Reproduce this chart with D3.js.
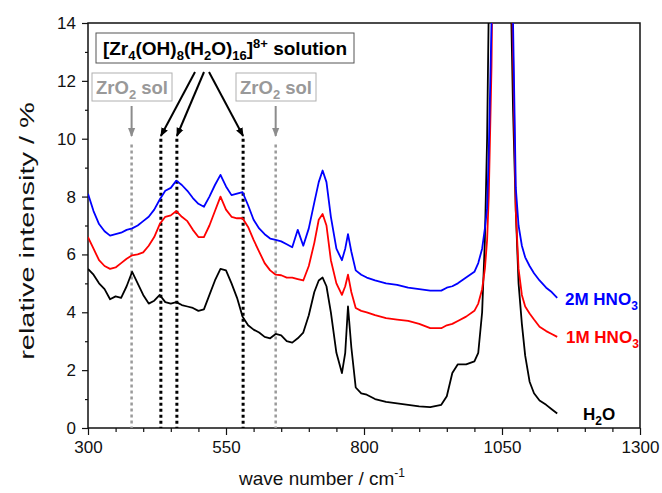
<!DOCTYPE html>
<html><head><meta charset="utf-8">
<script src="https://cdn.jsdelivr.net/npm/d3@7/dist/d3.min.js"></script>
<style>
body{margin:0;background:#fff;}
svg{display:block;font-family:"Liberation Sans",Arial,sans-serif;}
</style></head>
<body><svg id="chart" width="662" height="493"></svg>
<script>
// ---- data ----
const waveNumber = [300,310,320,330,340,350,360,370,380,390,400,410,420,430,440,450,460,470,480,490,500,510,520,530,540,550,560,570,580,590,600,610,620,630,640,650,660,670,680,690,700,710,718,725,732,740,750,760,766,771,777,785,795,805,820,840,860,880,900,920,940,950,960,970,985,1000,1007,1014,1019,1023,1026,1031,1040,1050,1060,1066,1070,1075,1080,1086,1092,1100,1108,1118,1130,1140,1150];
const h2o = [5.5,5.3,5.0,4.8,4.45,4.55,4.5,4.9,5.4,5.0,4.6,4.3,4.4,4.6,4.35,4.3,4.35,4.25,4.2,4.15,4.05,4.1,4.6,5.1,5.5,5.45,5.0,4.5,3.85,3.55,3.4,3.3,3.15,3.1,3.25,3.2,3.0,2.95,3.1,3.3,3.9,4.7,5.1,5.2,4.9,4.0,2.6,1.9,2.6,4.2,2.8,1.4,1.2,1.15,1.0,0.9,0.85,0.8,0.75,0.72,0.8,1.1,1.9,2.2,2.2,2.3,2.6,4.0,6.5,10,14.5,25,45,60,40,15,11,7.5,5.0,3.6,2.5,1.6,1.2,0.95,0.8,0.65,0.5];
const hno3_1M = [6.6,6.2,5.8,5.6,5.5,5.55,5.7,5.85,5.97,6.0,6.07,6.3,6.6,7.05,7.3,7.35,7.5,7.3,7.15,6.85,6.6,6.6,7.0,7.5,8.0,7.55,7.3,7.25,7.25,6.95,6.5,6.1,5.7,5.45,5.3,5.28,5.2,5.2,5.15,5.1,5.6,6.4,7.2,7.4,7.0,5.8,5.0,4.6,4.9,5.3,4.7,4.15,4.05,4.0,3.9,3.8,3.75,3.7,3.6,3.45,3.45,3.55,3.6,3.7,3.85,4.05,4.3,4.8,5.5,6.5,8,12.5,28,50,30,17,13,7.5,5.5,4.6,4.2,3.96,3.75,3.5,3.35,3.25,3.15];
const hno3_2M = [8.1,7.5,7.05,6.8,6.65,6.7,6.75,6.85,6.9,7.0,7.15,7.3,7.55,7.9,8.2,8.3,8.55,8.4,8.2,7.95,7.75,7.65,8.0,8.4,8.75,8.35,8.05,8.1,8.15,7.7,7.2,6.9,6.7,6.55,6.5,6.45,6.35,6.25,6.85,6.3,6.9,7.8,8.5,8.9,8.5,7.3,6.2,5.8,6.2,6.7,6.1,5.45,5.3,5.2,5.1,5.0,4.95,4.85,4.8,4.75,4.75,4.85,4.9,5.0,5.2,5.4,5.7,6.2,6.9,7.6,9.5,14,30,50,30,18,14,8.3,7.0,6.3,5.9,5.6,5.35,5.1,4.85,4.7,4.5];
const xTicks = [300,550,800,1050,1300];
const yTicks = [0,2,4,6,8,10,12,14];
const zrSolLines = [379,640];          // ZrO2 sol bands
const zrComplexLines = [432,461,581];  // [Zr4(OH)8(H2O)16]8+ bands

// ---- layout ----
const svg = d3.select("#chart");
const L=88,R=640,T=23,B=428;
const x = d3.scaleLinear().domain([300,1300]).range([L,R]);
const y = d3.scaleLinear().domain([0,14]).range([B,T]);

const defs = svg.append("defs");
defs.append("clipPath").attr("id","clip")
  .append("rect").attr("x",L).attr("y",T).attr("width",R-L).attr("height",B-T);
function marker(id,color){
  defs.append("marker").attr("id",id).attr("viewBox","0 0 10 10").attr("refX",9).attr("refY",5)
    .attr("markerWidth",4.5).attr("markerHeight",4.5).attr("markerUnits","strokeWidth").attr("orient","auto")
    .append("path").attr("d","M0,1 L10,5 L0,9 z").attr("fill",color);
}
marker("arrB","#000"); marker("arrG","#8c8c8c");

// axes
const xMinor = d3.range(300,1301,50).filter(v=>!xTicks.includes(v));
const yMinor = d3.range(1,14,2);
svg.append("g").attr("transform",`translate(0,${B})`)
  .call(d3.axisBottom(x).tickValues(xTicks).tickFormat(d3.format("d")).tickSize(7).tickSizeOuter(0).tickPadding(6));
svg.append("g").attr("transform",`translate(0,${B})`)
  .call(d3.axisBottom(x).tickValues(xMinor).tickSize(4).tickFormat(""));
svg.append("g").attr("transform",`translate(${L},0)`)
  .call(d3.axisLeft(y).tickValues(yTicks).tickFormat(d3.format("d")).tickSize(6).tickSizeOuter(0).tickPadding(6));
svg.append("g").attr("transform",`translate(${L},0)`)
  .call(d3.axisLeft(y).tickValues(yMinor).tickSize(3).tickFormat(""));
svg.selectAll(".tick text").attr("font-size","17px").attr("fill","#111").attr("font-family","Liberation Sans, Arial, sans-serif");
svg.selectAll(".tick line").attr("stroke","#111").attr("stroke-width",1.2);
svg.selectAll(".domain").remove();

// frame
svg.append("rect").attr("x",L).attr("y",T).attr("width",R-L).attr("height",B-T)
  .attr("fill","none").attr("stroke","#111").attr("stroke-width",1.5);

// axis titles
svg.append("text").attr("x",322).attr("y",485).attr("text-anchor","middle").attr("font-size","19px").attr("fill","#111")
  .text("wave number / cm").append("tspan").attr("dy",-8).attr("font-size","12px").text("-1");
svg.append("text").attr("transform",`translate(34,231) rotate(-90) scale(1.45,1)`).attr("text-anchor","middle")
  .attr("font-size","20px").attr("fill","#111").text("relative intensity / %");

// annotation dotted lines
const ann = svg.append("g");
ann.selectAll(".gl").data(zrSolLines).join("line")
  .attr("x1",d=>x(d)).attr("x2",d=>x(d)).attr("y1",y(9.8)).attr("y2",B)
  .attr("stroke","#9a9a9a").attr("stroke-width",2.5).attr("stroke-dasharray","3,3");
ann.selectAll(".bl").data(zrComplexLines).join("line")
  .attr("x1",d=>x(d)).attr("x2",d=>x(d)).attr("y1",y(10.0)).attr("y2",B)
  .attr("stroke","#000").attr("stroke-width",3).attr("stroke-dasharray","3,3");

// spectra
const line = d3.line().x((d,i)=>x(waveNumber[i])).y(d=>y(d));
const plot = svg.append("g").attr("clip-path","url(#clip)");
[[h2o,"#000"],[hno3_1M,"#ff0000"],[hno3_2M,"#0000ff"]].forEach(([vals,c])=>{
  plot.append("path").datum(vals).attr("d",line).attr("fill","none").attr("stroke",c)
    .attr("stroke-width",1.8).attr("stroke-linejoin","round");
});

// series labels
function seriesLabel(xp,yp,color,main,sub){
  const t = svg.append("text").attr("x",xp).attr("y",yp).attr("font-size","17px").attr("font-weight","bold").attr("fill",color);
  t.append("tspan").text(main);
  t.append("tspan").attr("dy",5).attr("font-size","12px").text(sub);
}
seriesLabel(565,305,"#0000ff","2M HNO","3");
seriesLabel(566,343,"#ff0000","1M HNO","3");
const h = svg.append("text").attr("x",583).attr("y",420).attr("font-size","17px").attr("font-weight","bold").attr("fill","#000");
h.append("tspan").text("H"); h.append("tspan").attr("dy",5).attr("font-size","12px").text("2"); h.append("tspan").attr("dy",-5).text("O");

// ZrO2 sol boxes
function solBox(xc){
  const g = svg.append("g");
  g.append("rect").attr("x",xc-40).attr("y",73).attr("width",80).attr("height",28).attr("fill","#fff").attr("stroke","#b0b0b0").attr("stroke-width",1);
  const t = g.append("text").attr("x",xc).attr("y",94).attr("text-anchor","middle").attr("font-size","18.5px").attr("font-weight","bold").attr("fill","#999");
  t.append("tspan").text("ZrO"); t.append("tspan").attr("dy",5).attr("font-size","13px").text("2");
  t.append("tspan").attr("dy",-5).text(" sol");
}
solBox(132); solBox(276);
zrSolLines.forEach(v=>{
  svg.append("line").attr("x1",x(v)).attr("x2",x(v)).attr("y1",106).attr("y2",136)
    .attr("stroke","#8c8c8c").attr("stroke-width",2).attr("marker-end","url(#arrG)");
});

// complex box
const bg = svg.append("g");
bg.append("rect").attr("x",96).attr("y",33).attr("width",258).attr("height",30).attr("fill","#fff").attr("stroke","#555").attr("stroke-width",1);
const ct = bg.append("text").attr("x",225).attr("y",55).attr("text-anchor","middle").attr("font-size","19px").attr("font-weight","bold").attr("fill","#000");
ct.append("tspan").text("[Zr");
ct.append("tspan").attr("dy",5).attr("font-size","13px").text("4");
ct.append("tspan").attr("dy",-5).text("(OH)");
ct.append("tspan").attr("dy",5).attr("font-size","13px").text("8");
ct.append("tspan").attr("dy",-5).text("(H");
ct.append("tspan").attr("dy",5).attr("font-size","13px").text("2");
ct.append("tspan").attr("dy",-5).text("O)");
ct.append("tspan").attr("dy",5).attr("font-size","13px").text("16");
ct.append("tspan").attr("dy",-5).text("]");
ct.append("tspan").attr("dy",-7).attr("font-size","13px").text("8+");
ct.append("tspan").attr("dy",7).text(" solution");

const starts = [195,204,209];
zrComplexLines.forEach((v,i)=>{
  svg.append("line").attr("x1",starts[i]).attr("y1",72).attr("x2",x(v)).attr("y2",136)
    .attr("stroke","#000").attr("stroke-width",2).attr("marker-end","url(#arrB)");
});
</script></body></html>
